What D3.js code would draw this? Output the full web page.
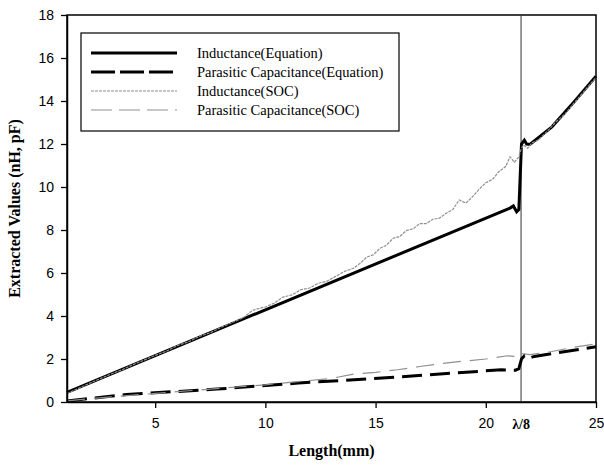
<!DOCTYPE html>
<html>
<head>
<meta charset="utf-8">
<script src="https://cdn.jsdelivr.net/npm/d3@7"></script>
<style>
  body { margin: 0; background: #fff; }
  .tick text { font-family: "Liberation Sans", Arial, sans-serif; font-size: 14px; fill: #000; }
  .lbl { font-family: "Liberation Serif", "Times New Roman", serif; font-weight: bold; font-size: 16px; }
  .leg { font-family: "Liberation Serif", "Times New Roman", serif; font-size: 14.5px; }
</style>
</head>
<body>
<div id="chart"></div>
<script>
// Extracted values vs line length

var svgWidth = 604, svgHeight = 468;
var margin = {top: 15, right: 8, bottom: 66, left: 67};
var width = svgWidth - margin.left - margin.right;
var height = svgHeight - margin.top - margin.bottom;

var lambda8 = 21.6;
var xTicks = [5, 10, 15, 20, 25];
var yTicks = [0, 2, 4, 6, 8, 10, 12, 14, 16, 18];

// Inductance(Equation)
var indEqX = [1, 21.1, 21.25, 21.4, 21.5, 21.62, 21.75, 21.85, 22.0, 23.0, 24.0, 25];
var indEqY = [0.45, 9.02, 9.12, 8.85, 8.95, 12.0, 12.18, 12.0, 11.98, 12.8, 13.95, 15.15];

// Parasitic Capacitance(Equation)
var capEqX = [1, 3.7, 7.8, 11.5, 16.1, 20.7, 21.35, 21.5, 21.62, 21.75, 21.9, 22.2, 25];
var capEqY = [0.05, 0.35, 0.6, 0.88, 1.17, 1.5, 1.48, 1.55, 2.0, 2.15, 2.02, 2.12, 2.57];

// Inductance(SOC)
var indSocX = [1, 1.5, 2, 2.5, 3, 3.5, 4, 4.5, 5, 5.5, 6, 6.5, 7, 7.5, 8, 8.5,
  9.0, 9.4, 9.7, 10.0, 10.4, 10.8, 11.2, 11.6, 12.0, 12.4, 12.8, 13.2, 13.6,
  14.0, 14.3, 14.6, 14.9, 15.2, 15.5, 15.8, 16.1, 16.4, 16.7, 17.0, 17.3, 17.6, 17.9,
  18.2, 18.5, 18.8, 19.1, 19.4, 19.7, 20.0, 20.3, 20.6, 20.9, 21.1, 21.3, 21.5,
  21.6, 21.7, 21.9, 22.1, 22.4, 22.8, 23.2, 23.6, 24.0, 24.5, 25];
var indSocY = [0.40, 0.62, 0.86, 1.08, 1.30, 1.50, 1.74, 1.95, 2.17, 2.36, 2.62, 2.80,
  3.05, 3.22, 3.48, 3.70,
  3.92, 4.25, 4.35, 4.42, 4.60, 4.88, 4.98, 5.22, 5.30, 5.52, 5.62, 5.85, 6.08,
  6.22, 6.45, 6.74, 6.85, 7.15, 7.30, 7.62, 7.70, 7.98, 8.05, 8.30, 8.30, 8.50, 8.55,
  8.78, 8.95, 9.40, 9.25, 9.55, 9.90, 10.20, 10.35, 10.72, 10.95, 11.40, 11.15, 11.40,
  11.75, 11.95, 11.80, 12.05, 12.20, 12.60, 13.05, 13.40, 13.90, 14.50, 15.10];

// Parasitic Capacitance(SOC)
var capSocX = [1, 2, 3, 4, 5, 6, 7, 8, 9, 10, 11, 12, 13, 14, 15, 16, 17, 18, 19, 20,
  21, 21.5, 21.6, 22, 23, 24, 25];
var capSocY = [0.05, 0.15, 0.24, 0.32, 0.40, 0.48, 0.56, 0.64, 0.72, 0.80, 0.90, 1.00,
  1.10, 1.30, 1.38, 1.50, 1.65, 1.79, 1.90, 2.00, 2.15, 2.10, 2.26, 2.20, 2.35, 2.55, 2.70];

var legendNames = ["Inductance(Equation)", "Parasitic Capacitance(Equation)",
  "Inductance(SOC)", "Parasitic Capacitance(SOC)"];

var series = [
  {x: indEqX, y: indEqY, color: "#000", w: 3, dash: null},
  {x: capEqX, y: capEqY, color: "#000", w: 3, dash: "20,8"},
  {x: indSocX, y: indSocY, color: "#8f8f8f", w: 1.2, dash: "3,1"},
  {x: capSocX, y: capSocY, color: "#8f8f8f", w: 1.2, dash: "18,9"}
];

var x = d3.scaleLinear().domain([1, 25]).range([0, width]);
var y = d3.scaleLinear().domain([0, 18]).range([height, 0]);

var svg = d3.select("#chart").append("svg")
    .attr("width", svgWidth)
    .attr("height", svgHeight)
  .append("g")
    .attr("transform", "translate(" + margin.left + "," + margin.top + ")");

// frame
svg.append("rect")
    .attr("width", width).attr("height", height)
    .attr("fill", "none").attr("stroke", "#000").attr("stroke-width", 1.5);

// lambda/8 marker
svg.append("line")
    .attr("x1", x(lambda8)).attr("x2", x(lambda8))
    .attr("y1", 0).attr("y2", height)
    .attr("stroke", "#333").attr("stroke-width", 1);

// lines
var line = d3.line();
series.forEach(function(s) {
  var pts = s.x.map(function(v, i) { return [x(v), y(s.y[i])]; });
  svg.append("path")
      .attr("d", line(pts))
      .attr("fill", "none")
      .attr("stroke", s.color)
      .attr("stroke-width", s.w)
      .attr("stroke-dasharray", s.dash);
});

// axes
var xAxis = svg.append("g")
    .attr("transform", "translate(0," + height + ")")
    .call(d3.axisBottom(x).tickValues(xTicks).tickSize(6).tickSizeOuter(0).tickPadding(10));
var yAxis = svg.append("g")
    .call(d3.axisLeft(y).tickValues(yTicks).tickSize(6).tickSizeOuter(0).tickPadding(7));
[xAxis, yAxis].forEach(function(a) {
  a.select(".domain").attr("stroke-width", 1.5);
  a.selectAll(".tick line").attr("stroke-width", 1.3);
});

xAxis.append("text")
    .attr("class", "lbl")
    .attr("x", x(lambda8)).attr("y", 27)
    .attr("fill", "#000")
    .style("text-anchor", "middle")
    .style("font-size", "14px")
    .text("λ/8");

// axis titles
svg.append("text")
    .attr("class", "lbl")
    .attr("x", width / 2).attr("y", height + 54)
    .style("text-anchor", "middle")
    .text("Length(mm)");
svg.append("text")
    .attr("class", "lbl")
    .attr("transform", "rotate(-90)")
    .attr("x", -height / 2).attr("y", -47)
    .style("text-anchor", "middle")
    .text("Extracted Values (nH, pF)");

// legend
var leg = svg.append("g").attr("transform", "translate(14,18)");
leg.append("rect")
    .attr("width", 318).attr("height", 98)
    .attr("fill", "#fff").attr("stroke", "#000").attr("stroke-width", 1.2);
legendNames.forEach(function(name, i) {
  var s = series[i];
  var ly = 20 + i * 19;
  leg.append("line")
      .attr("x1", 10).attr("x2", 96)
      .attr("y1", ly).attr("y2", ly)
      .attr("stroke", s.color)
      .attr("stroke-width", s.w)
      .attr("stroke-dasharray", i == 1 ? "24,5" : (i == 3 ? "21,7" : s.dash));
  leg.append("text")
      .attr("class", "leg")
      .attr("x", 116).attr("y", ly + 5)
      .text(name);
});
</script>
</body>
</html>
